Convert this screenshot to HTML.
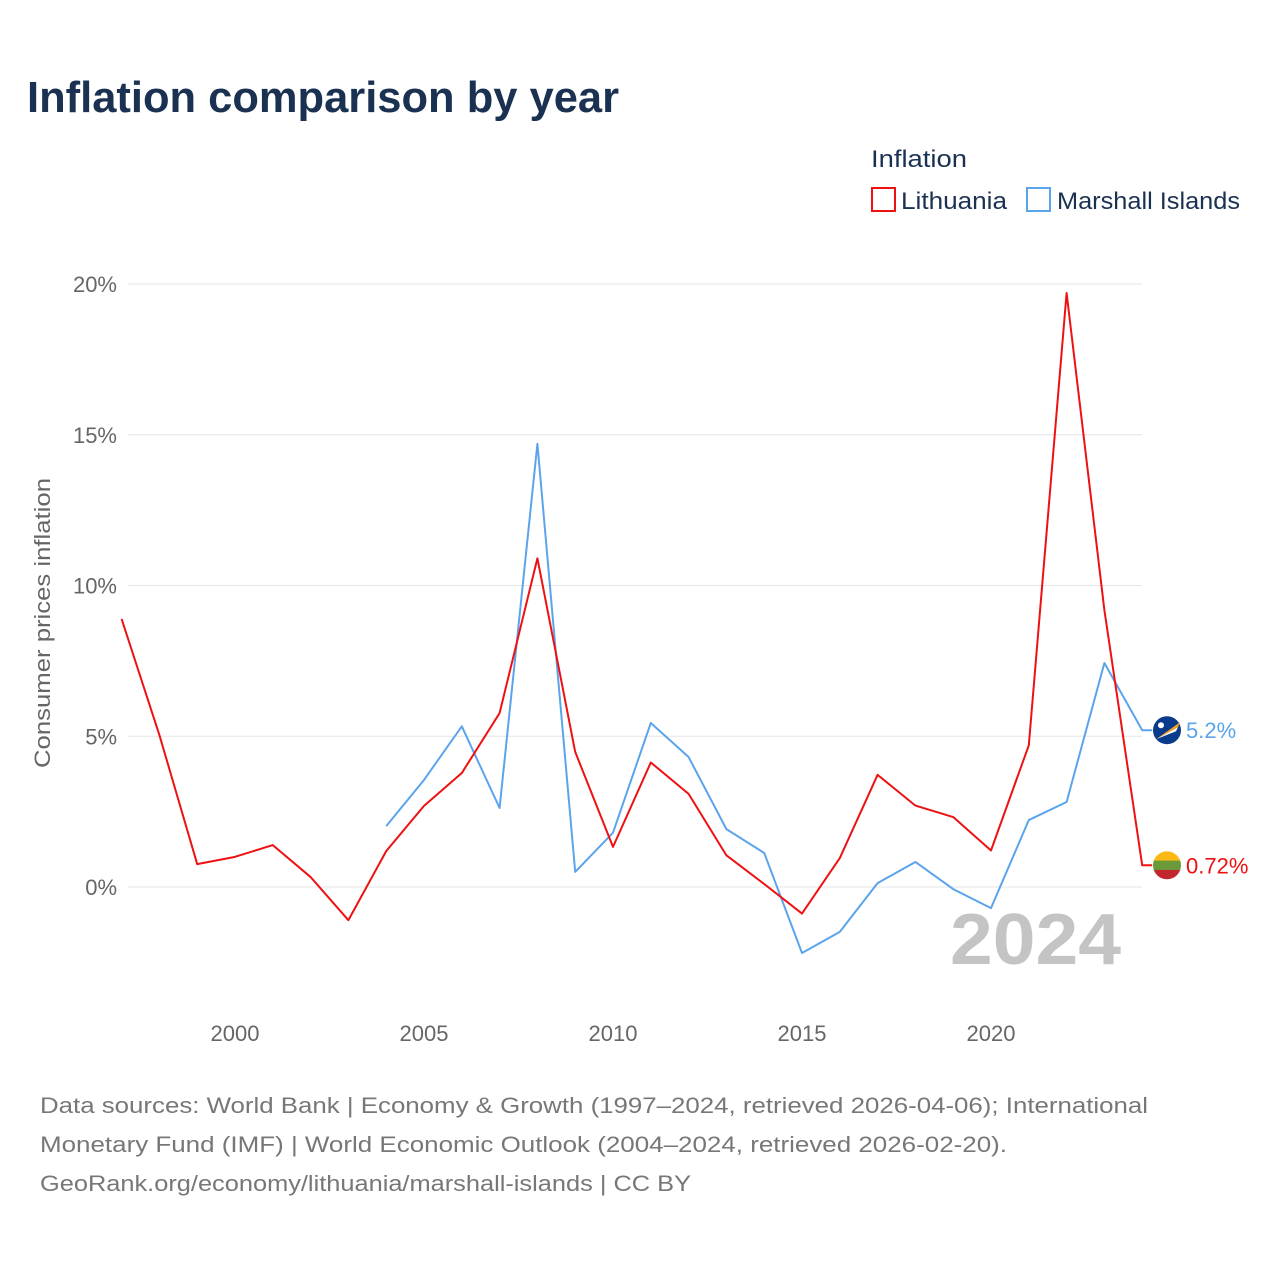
<!DOCTYPE html>
<html><head><meta charset="utf-8"><style>
body{margin:0;background:#fff;width:1280px;height:1280px;overflow:hidden;font-family:"Liberation Sans",sans-serif}
</style></head><body>
<svg width="1280" height="1280" style="font-family:'Liberation Sans',sans-serif">
<text x="27" y="112" font-size="44" font-weight="bold" fill="#1b3152" textLength="592" lengthAdjust="spacingAndGlyphs">Inflation comparison by year</text>
<text x="871" y="167" font-size="24" fill="#1b3152" textLength="96" lengthAdjust="spacingAndGlyphs">Inflation</text>
<g><rect x="872" y="188" width="23" height="23" fill="none" stroke="#ee1111" stroke-width="2"/><text x="901" y="209" font-size="24" fill="#1b3152" textLength="106" lengthAdjust="spacingAndGlyphs">Lithuania</text></g>
<g><rect x="1027" y="188" width="23" height="23" fill="none" stroke="#5ba4ec" stroke-width="2"/><text x="1057" y="209" font-size="24" fill="#1b3152" textLength="183" lengthAdjust="spacingAndGlyphs">Marshall Islands</text></g>
<g id="grid"></g>
<text transform="translate(50,623) rotate(-90)" text-anchor="middle" font-size="22" fill="#666" textLength="290" lengthAdjust="spacingAndGlyphs">Consumer prices inflation</text>
<text x="950" y="964" font-size="72" font-weight="bold" fill="#c4c4c4" textLength="171" lengthAdjust="spacingAndGlyphs">2024</text>
<g id="series"></g>
<g font-size="22" fill="#777">
<text x="40" y="1113" textLength="1108" lengthAdjust="spacingAndGlyphs">Data sources: World Bank | Economy &amp; Growth (1997–2024, retrieved 2026-04-06); International</text>
<text x="40" y="1152" textLength="967" lengthAdjust="spacingAndGlyphs">Monetary Fund (IMF) | World Economic Outlook (2004–2024, retrieved 2026-02-20).</text>
<text x="40" y="1191" textLength="651" lengthAdjust="spacingAndGlyphs">GeoRank.org/economy/lithuania/marshall-islands | CC BY</text>
</g>
</svg>
<script>
const years=[1997,1998,1999,2000,2001,2002,2003,2004,2005,2006,2007,2008,2009,2010,2011,2012,2013,2014,2015,2016,2017,2018,2019,2020,2021,2022,2023,2024];
const lithuania=[8.89,5.04,0.76,1.0,1.39,0.33,-1.1,1.19,2.69,3.78,5.77,10.9,4.48,1.33,4.13,3.09,1.05,0.1,-0.88,0.96,3.72,2.7,2.32,1.21,4.7,19.7,9.18,0.72];
const marshallYears=[2004,2005,2006,2007,2008,2009,2010,2011,2012,2013,2014,2015,2016,2017,2018,2019,2020,2021,2022,2023,2024];
const marshall=[2.02,3.55,5.33,2.62,14.7,0.5,1.8,5.44,4.31,1.92,1.13,-2.19,-1.49,0.13,0.83,-0.07,-0.7,2.22,2.82,7.43,5.2];
const yTicks=[0,5,10,15,20];
const xTicks=[2000,2005,2010,2015,2020];
const NS="http://www.w3.org/2000/svg";
const x=v=>121.6+(v-1997)*37.8;
const y=v=>887-v*30.15;
const grid=document.getElementById('grid'),series=document.getElementById('series');
function mk(tag,attrs,parent){const e=document.createElementNS(NS,tag);for(const k in attrs)e.setAttribute(k,attrs[k]);parent.appendChild(e);return e;}
yTicks.forEach(t=>{
 const l=mk('line',{x1:128,x2:1142,y1:y(t),y2:y(t),stroke:'#e6e6e6','stroke-width':1},grid);
 
 
 const tx=mk('text',{x:117,y:y(t)+8,'text-anchor':'end','font-size':22,fill:'#666'},grid);
 tx.textContent=t+'%';
 
 
});
xTicks.forEach(t=>{
 const tx=mk('text',{x:x(t),y:1041,'text-anchor':'middle','font-size':22,fill:'#666'},grid);
 tx.textContent=t;
 
 
});
function line(xs,vs,color,name){
 const d=xs.map((yr,i)=>(i?'L':'M')+x(yr)+','+y(vs[i])).join(' ')+' h10';
 const p=mk('path',{d:d,fill:'none',stroke:color,'stroke-width':2,'stroke-linejoin':'round'},series);
 
 
}
line(marshallYears,marshall,'#5ba4ec','marshall-islands-line');
line(years,lithuania,'#ee1111','lithuania-line');
const mv=marshall[marshall.length-1], lv=lithuania[lithuania.length-1];
const mf=mk('g',{},series);


mk('circle',{cx:1167,cy:y(mv),r:14,fill:'#0a3a8c'},mf);
mk('path',{d:`M${1156},${y(mv)+9} L${1180},${y(mv)-8} L${1178},${y(mv)-3} Z`,fill:'#f7a21b'},mf);
mk('path',{d:`M${1156},${y(mv)+9} L${1178},${y(mv)-3} L${1176},${y(mv)+1} Z`,fill:'#fff'},mf);
mk('circle',{cx:1161,cy:y(mv)-5,r:3,fill:'#fff'},mf);
const ml=mk('text',{x:1186,y:y(mv)+8,'font-size':22,fill:'#5ba4ec'},series);
ml.textContent=mv+'%';


const lf=mk('g',{},series);


const cy=y(lv);
mk('clipPath',{id:'cl'},lf);
mk('circle',{cx:1167,cy:cy,r:14},lf.lastChild);
mk('rect',{x:1153,y:cy-14,width:28,height:10,fill:'#fdb913','clip-path':'url(#cl)'},lf);
mk('rect',{x:1153,y:cy-4.7,width:28,height:9.4,fill:'#6a9a3a','clip-path':'url(#cl)'},lf);
mk('rect',{x:1153,y:cy+4.6,width:28,height:10,fill:'#c1272d','clip-path':'url(#cl)'},lf);
const ll=mk('text',{x:1186,y:cy+8,'font-size':22,fill:'#ee1111'},series);
ll.textContent=lv+'%';


</script>
</body></html>
